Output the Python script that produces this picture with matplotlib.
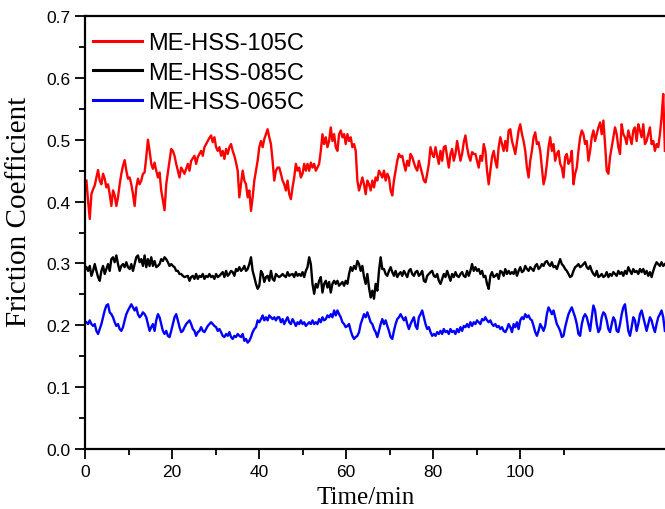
import matplotlib
matplotlib.use("Agg")
import matplotlib.pyplot as plt
import numpy as np
from matplotlib.ticker import FixedLocator

# sampling grid of the tribometer record (min)
t_start, t_end = 0.3, 133.25

labels = ["ME-HSS-105C", "ME-HSS-085C", "ME-HSS-065C"]
colors = ["#ff0000", "#000000", "#0000ff"]

# tick positions shown on the cropped original
x_major = [0, 20, 40, 60, 80, 100]
x_minor = [10, 30, 50, 70, 90, 110]

# friction coefficient
mu_105 = [
    0.434, 0.401, 0.372, 0.412, 0.420, 0.426, 0.439, 0.451, 0.434, 0.428,
    0.445, 0.437, 0.423, 0.428, 0.412, 0.393, 0.418, 0.410, 0.393, 0.407,
    0.428, 0.445, 0.458, 0.467, 0.450, 0.437, 0.439, 0.428, 0.412, 0.393,
    0.423, 0.437, 0.428, 0.434, 0.445, 0.447, 0.472, 0.500, 0.482, 0.461,
    0.453, 0.463, 0.450, 0.439, 0.447, 0.418, 0.402, 0.386, 0.428, 0.447,
    0.466, 0.485, 0.482, 0.474, 0.461, 0.450, 0.439,
    0.455, 0.450, 0.445, 0.453, 0.461, 0.450, 0.466, 0.470, 0.474, 0.461,
    0.472, 0.477, 0.482, 0.474, 0.488, 0.493, 0.498, 0.503, 0.507, 0.496,
    0.504, 0.488, 0.482, 0.488, 0.474, 0.482, 0.469, 0.485, 0.477, 0.488,
    0.493, 0.482, 0.474, 0.463, 0.450, 0.407, 0.428, 0.450, 0.434, 0.428,
    0.407, 0.418, 0.385, 0.407, 0.434, 0.450, 0.466, 0.488, 0.498, 0.488,
    0.501, 0.509, 0.517, 0.504, 0.493, 0.466, 0.434, 0.450, 0.455,
    0.455, 0.445, 0.434, 0.428, 0.418, 0.434, 0.412, 0.404, 0.423, 0.439,
    0.461, 0.450, 0.455, 0.439, 0.445, 0.461, 0.450, 0.461, 0.450, 0.463,
    0.455, 0.461, 0.450, 0.455, 0.461, 0.482, 0.509, 0.493, 0.504, 0.488,
    0.498, 0.520, 0.498, 0.509, 0.488, 0.482, 0.509, 0.515, 0.504, 0.509,
    0.493, 0.509, 0.498, 0.504, 0.488, 0.493, 0.482, 0.434, 0.418, 0.428,
    0.439, 0.428, 0.412, 0.434, 0.428, 0.418, 0.434, 0.423, 0.439,
    0.434, 0.450, 0.445, 0.439, 0.450, 0.434, 0.445, 0.439, 0.418, 0.410,
    0.434, 0.450, 0.466, 0.477, 0.472, 0.474, 0.461, 0.450, 0.466, 0.458,
    0.477, 0.472, 0.463, 0.455, 0.450, 0.466, 0.455, 0.445, 0.434, 0.431,
    0.445, 0.461, 0.488, 0.477, 0.472, 0.488, 0.474, 0.461, 0.482, 0.466,
    0.488, 0.490, 0.472, 0.455, 0.477, 0.485, 0.466, 0.477, 0.498, 0.482,
    0.466, 0.477, 0.496, 0.507, 0.488, 0.474, 0.466, 0.480, 0.477,
    0.477, 0.466, 0.455, 0.474, 0.466, 0.493, 0.482, 0.450, 0.428, 0.450,
    0.472, 0.482, 0.466, 0.455, 0.488, 0.504, 0.493, 0.482, 0.498, 0.482,
    0.515, 0.517, 0.498, 0.488, 0.477, 0.496, 0.515, 0.525, 0.509, 0.498,
    0.482, 0.455, 0.439, 0.466, 0.482, 0.504, 0.512, 0.493, 0.496, 0.482,
    0.455, 0.428, 0.439, 0.461, 0.488, 0.504, 0.482, 0.493, 0.466, 0.477,
    0.482, 0.461, 0.455, 0.439, 0.472, 0.477, 0.461, 0.466, 0.482,
    0.428, 0.445, 0.455, 0.482, 0.504, 0.515, 0.509, 0.493, 0.498, 0.466,
    0.482, 0.504, 0.515, 0.498, 0.509, 0.520, 0.528, 0.509, 0.531, 0.493,
    0.450, 0.445, 0.472, 0.488, 0.504, 0.520, 0.509, 0.488, 0.477, 0.525,
    0.509, 0.504, 0.493, 0.515, 0.504, 0.493, 0.515, 0.520, 0.498, 0.525,
    0.515, 0.504, 0.525, 0.493, 0.498, 0.509, 0.520, 0.493, 0.498, 0.482,
    0.493, 0.488, 0.509, 0.536, 0.574, 0.482,
]

mu_085 = [
    0.294, 0.288, 0.296, 0.280, 0.288, 0.299, 0.288, 0.278, 0.272, 0.288,
    0.296, 0.283, 0.291, 0.299, 0.288, 0.307, 0.310, 0.302, 0.313, 0.299,
    0.288, 0.296, 0.299, 0.294, 0.302, 0.294, 0.291, 0.299, 0.288, 0.299,
    0.310, 0.313, 0.302, 0.307, 0.296, 0.313, 0.294, 0.307, 0.296, 0.310,
    0.296, 0.304, 0.294, 0.296, 0.299, 0.307, 0.304, 0.310, 0.307, 0.302,
    0.296, 0.299, 0.296, 0.294, 0.288, 0.288, 0.283,
    0.283, 0.280, 0.278, 0.279, 0.280, 0.272, 0.278, 0.280, 0.275, 0.283,
    0.275, 0.280, 0.278, 0.283, 0.275, 0.280, 0.278, 0.283, 0.278, 0.280,
    0.275, 0.283, 0.278, 0.280, 0.283, 0.286, 0.278, 0.288, 0.280, 0.283,
    0.288, 0.286, 0.280, 0.291, 0.288, 0.294, 0.288, 0.291, 0.296, 0.288,
    0.291, 0.299, 0.310, 0.288, 0.278, 0.267, 0.259, 0.264, 0.288, 0.283,
    0.270, 0.278, 0.280, 0.272, 0.288, 0.275, 0.272, 0.283, 0.280,
    0.278, 0.280, 0.283, 0.280, 0.278, 0.286, 0.280, 0.282, 0.283, 0.278,
    0.286, 0.280, 0.283, 0.280, 0.286, 0.278, 0.288, 0.294, 0.310, 0.299,
    0.267, 0.251, 0.267, 0.261, 0.272, 0.278, 0.253, 0.267, 0.272, 0.261,
    0.270, 0.253, 0.267, 0.272, 0.267, 0.272, 0.264, 0.267, 0.270, 0.264,
    0.272, 0.267, 0.283, 0.294, 0.288, 0.296, 0.291, 0.304, 0.299, 0.288,
    0.296, 0.278, 0.267, 0.283, 0.261, 0.245, 0.256, 0.243, 0.267,
    0.256, 0.288, 0.310, 0.291, 0.291, 0.283, 0.280, 0.288, 0.294, 0.286,
    0.280, 0.288, 0.278, 0.283, 0.286, 0.280, 0.288, 0.283, 0.278, 0.288,
    0.291, 0.283, 0.280, 0.286, 0.288, 0.280, 0.283, 0.288, 0.272, 0.270,
    0.280, 0.283, 0.286, 0.288, 0.280, 0.278, 0.283, 0.272, 0.267, 0.275,
    0.283, 0.278, 0.288, 0.280, 0.272, 0.283, 0.278, 0.286, 0.280, 0.278,
    0.283, 0.286, 0.280, 0.278, 0.288, 0.280, 0.288, 0.299, 0.288,
    0.294, 0.288, 0.291, 0.283, 0.288, 0.278, 0.280, 0.267, 0.259, 0.280,
    0.286, 0.278, 0.280, 0.283, 0.275, 0.288, 0.286, 0.280, 0.291, 0.283,
    0.288, 0.283, 0.286, 0.283, 0.291, 0.280, 0.288, 0.294, 0.286, 0.288,
    0.296, 0.291, 0.288, 0.294, 0.291, 0.288, 0.296, 0.299, 0.291, 0.294,
    0.299, 0.296, 0.302, 0.304, 0.299, 0.296, 0.302, 0.294, 0.296, 0.291,
    0.299, 0.307, 0.299, 0.296, 0.291, 0.288, 0.283, 0.278, 0.280,
    0.288, 0.294, 0.296, 0.299, 0.294, 0.296, 0.299, 0.302, 0.294, 0.291,
    0.296, 0.288, 0.283, 0.280, 0.288, 0.278, 0.280, 0.283, 0.278, 0.280,
    0.286, 0.278, 0.283, 0.280, 0.286, 0.283, 0.280, 0.288, 0.283, 0.286,
    0.280, 0.288, 0.283, 0.294, 0.288, 0.283, 0.291, 0.286, 0.288, 0.283,
    0.291, 0.286, 0.291, 0.283, 0.288, 0.280, 0.286, 0.278, 0.288, 0.296,
    0.302, 0.299, 0.296, 0.302, 0.296, 0.299,
]

mu_065 = [
    0.205, 0.202, 0.208, 0.202, 0.199, 0.202, 0.191, 0.186, 0.194, 0.202,
    0.213, 0.224, 0.232, 0.234, 0.221, 0.218, 0.213, 0.205, 0.199, 0.202,
    0.194, 0.191, 0.197, 0.208, 0.218, 0.224, 0.229, 0.234, 0.229, 0.224,
    0.229, 0.218, 0.213, 0.216, 0.221, 0.218, 0.213, 0.202, 0.191, 0.197,
    0.202, 0.191, 0.208, 0.218, 0.213, 0.202, 0.191, 0.186, 0.191, 0.183,
    0.181, 0.191, 0.202, 0.213, 0.218, 0.208, 0.197,
    0.189, 0.191, 0.197, 0.202, 0.205, 0.208, 0.202, 0.194, 0.191, 0.183,
    0.189, 0.191, 0.197, 0.191, 0.189, 0.194, 0.199, 0.202, 0.205, 0.202,
    0.199, 0.197, 0.191, 0.194, 0.189, 0.183, 0.181, 0.186, 0.183, 0.189,
    0.181, 0.178, 0.183, 0.181, 0.186, 0.183, 0.181, 0.186, 0.175, 0.178,
    0.172, 0.175, 0.181, 0.189, 0.194, 0.197, 0.208, 0.205, 0.210, 0.216,
    0.208, 0.213, 0.208, 0.216, 0.213, 0.210, 0.213, 0.208, 0.213,
    0.213, 0.205, 0.210, 0.202, 0.208, 0.213, 0.205, 0.202, 0.210, 0.205,
    0.199, 0.205, 0.202, 0.208, 0.202, 0.205, 0.199, 0.202, 0.205, 0.202,
    0.208, 0.202, 0.205, 0.202, 0.210, 0.205, 0.213, 0.208, 0.210, 0.216,
    0.213, 0.218, 0.213, 0.224, 0.216, 0.224, 0.218, 0.213, 0.205, 0.202,
    0.197, 0.199, 0.202, 0.191, 0.183, 0.178, 0.181, 0.183, 0.189, 0.202,
    0.210, 0.218, 0.213, 0.221, 0.213, 0.205, 0.202, 0.194, 0.189,
    0.181, 0.191, 0.202, 0.210, 0.202, 0.208, 0.199, 0.191, 0.181, 0.178,
    0.191, 0.202, 0.210, 0.213, 0.218, 0.213, 0.208, 0.213, 0.202, 0.194,
    0.202, 0.208, 0.213, 0.199, 0.194, 0.213, 0.218, 0.224, 0.213, 0.202,
    0.194, 0.197, 0.189, 0.183, 0.186, 0.183, 0.189, 0.186, 0.191, 0.186,
    0.194, 0.189, 0.191, 0.186, 0.194, 0.189, 0.191, 0.186, 0.194, 0.189,
    0.197, 0.191, 0.199, 0.197, 0.202, 0.197, 0.205, 0.199, 0.205,
    0.202, 0.208, 0.205, 0.202, 0.210, 0.208, 0.213, 0.208, 0.205, 0.208,
    0.202, 0.199, 0.202, 0.197, 0.199, 0.194, 0.197, 0.191, 0.189, 0.194,
    0.202, 0.197, 0.189, 0.202, 0.197, 0.205, 0.194, 0.208, 0.213, 0.210,
    0.218, 0.213, 0.216, 0.210, 0.208, 0.199, 0.189, 0.183, 0.191, 0.202,
    0.197, 0.191, 0.199, 0.218, 0.229, 0.224, 0.218, 0.224, 0.213, 0.202,
    0.197, 0.191, 0.181, 0.183, 0.197, 0.208, 0.218, 0.224, 0.229,
    0.221, 0.213, 0.202, 0.186, 0.183, 0.202, 0.213, 0.218, 0.213, 0.202,
    0.191, 0.213, 0.232, 0.224, 0.202, 0.189, 0.194, 0.213, 0.221, 0.218,
    0.208, 0.194, 0.189, 0.202, 0.213, 0.208, 0.191, 0.189, 0.202, 0.218,
    0.229, 0.234, 0.213, 0.191, 0.183, 0.197, 0.213, 0.208, 0.191, 0.202,
    0.218, 0.224, 0.213, 0.202, 0.191, 0.202, 0.213, 0.208, 0.197, 0.189,
    0.202, 0.213, 0.218, 0.224, 0.213, 0.191,
]

series = [mu_105, mu_085, mu_065]

plt.rcParams["font.family"] = ["Liberation Sans", "DejaVu Sans"]
plt.rcParams["axes.linewidth"] = 1.6

fig = plt.figure(figsize=(6.65, 5.1), dpi=100)
# axes runs past the right edge, as in the cropped original
ax = fig.add_axes([0.128, 0.1176, 0.916, 0.849])

for mu, lab, col in zip(series, labels, colors):
    t = np.linspace(t_start, t_end, len(mu))
    ax.plot(t, mu, color=col, lw=1.7, label=lab)

ax.set_xlim(0, 140)
ax.set_ylim(0.0, 0.7)
ax.xaxis.set_major_locator(FixedLocator(x_major))
ax.xaxis.set_minor_locator(FixedLocator(x_minor))
ax.set_yticks(np.arange(0, 0.71, 0.1))
ax.set_yticks(np.arange(0.05, 0.7, 0.1), minor=True)
ax.yaxis.set_major_formatter(plt.FormatStrFormatter("%.1f"))
ax.tick_params(which="major", direction="out", length=7, width=1.3,
               labelsize=12.5, top=False, right=False)
ax.tick_params(which="minor", direction="out", length=4, width=1.3,
               top=False, right=False)

ax.set_xlabel("Time/min", family="Liberation Serif", fontsize=18)
ax.xaxis.set_label_coords(0.46, -0.085)
ax.set_ylabel("Friction Coefficient", family="Liberation Serif", fontsize=21)
ax.yaxis.set_label_coords(-0.088, 0.55)

leg = ax.legend(loc="upper left", bbox_to_anchor=(0.0, 0.982), frameon=False,
                fontsize=17, handlelength=2.05, handletextpad=0.25,
                labelspacing=0.32, borderaxespad=0.25, borderpad=0.1)
for line in leg.get_lines():
    line.set_linewidth(2.2)

fig.savefig("out.png", dpi=100)
